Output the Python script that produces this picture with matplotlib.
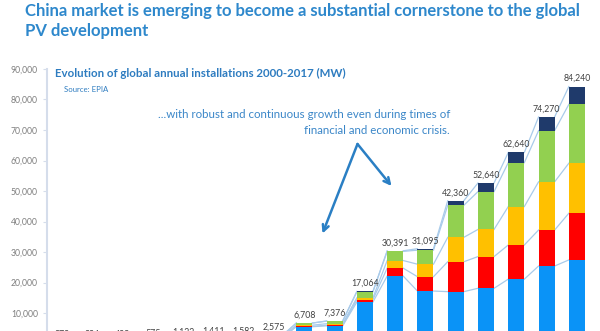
import matplotlib
matplotlib.use("Agg")
import matplotlib.pyplot as plt
from matplotlib.patches import FancyArrowPatch
from matplotlib.ticker import FuncFormatter
import numpy as np

years = list(range(2000, 2018))
europe = [200, 240, 320, 430, 850, 1050, 1150, 1800, 5500, 5800, 13600, 22100, 17200, 17000, 18100, 21100, 25400, 27400]
apac = [20, 25, 30, 40, 60, 80, 100, 200, 100, 200, 800, 2600, 4700, 9800, 10400, 11200, 11800, 15300]
americas = [30, 35, 45, 55, 120, 150, 170, 300, 400, 500, 600, 2500, 4100, 8000, 8900, 12600, 15800, 16400]
china = [20, 25, 35, 40, 80, 110, 140, 250, 700, 850, 2000, 3000, 4600, 10500, 12400, 14400, 16800, 19300]
row = [8, 9, 9, 10, 12, 21, 22, 25, 8, 26, 64, 191, 495, 1500, 2840, 3340, 4470, 5840]
total_labels = ["278", "334", "439", "575", "1,122", "1,411", "1,582", "2,575", "6,708", "7,376",
                "17,064", "30,391", "31,095", "42,360", "52,640", "62,640", "74,270", "84,240"]
yticks = [10000, 20000, 30000, 40000, 50000, 60000, 70000, 80000, 90000]

series = [europe, apac, americas, china, row]
colors = ["#0A93F7", "#FF0000", "#FFC000", "#92D050", "#1F3A6B"]

W, H = 600, 331
fig = plt.figure(figsize=(6.0, 3.31), dpi=100)
fig.patch.set_facecolor("white")

def fx(px):
    return px / W

def fy(py):
    return 1 - py / H

ax = fig.add_axes([fx(47), fy(343.5), fx(592) - fx(47), fy(69) - fy(343.5)])
ax.set_xlim(-0.5, len(years) - 0.5)
ax.set_ylim(0, 90000)

x = np.arange(len(years))
bw = 0.53
bottom = np.zeros(len(years))
cums = []
for vals, c in zip(series, colors):
    v = np.array(vals, dtype=float)
    ax.bar(x, v, bw, bottom=bottom, color=c, zorder=3, linewidth=0)
    bottom = bottom + v
    cums.append(bottom.copy())

# series lines connecting segment tops
for cum in cums:
    for i in range(len(years) - 1):
        ax.plot([x[i] + bw / 2, x[i + 1] - bw / 2], [cum[i], cum[i + 1]],
                color="#A9CBEA", lw=0.9, zorder=2, clip_on=False)

for i, lab in enumerate(total_labels):
    ax.annotate(lab, (x[i], bottom[i]), xytext=(0, 2.5), textcoords="offset points",
                ha="center", va="bottom", fontsize=6.3, color="#404040", family="Lato")

ax.set_yticks(yticks)
ax.yaxis.set_major_formatter(FuncFormatter(lambda v, p: f"{int(v):,}"))
ax.tick_params(axis="y", direction="out", length=3, width=0.8, color="#D5DDEB",
               labelsize=6.2, labelcolor="#7F7F7F", pad=3.5)
for lab in ax.get_yticklabels():
    lab.set_family("Lato")
ax.set_xticks([])
for s in ["top", "right", "bottom"]:
    ax.spines[s].set_visible(False)
ax.spines["left"].set_color("#D5DDEB")
ax.spines["left"].set_linewidth(1.5)
ax.set_facecolor("none")

# Titles and annotations
fig.text(fx(25), fy(11), "China market is emerging to become a substantial cornerstone to the global",
         fontsize=12.0, fontweight="bold", color="#2E88CC", family="Lato", ha="left", va="center")
fig.text(fx(25), fy(31), "PV development",
         fontsize=12.0, fontweight="bold", color="#2E88CC", family="Lato", ha="left", va="center")
fig.text(fx(55), fy(73), "Evolution of global annual installations 2000-2017 (MW)",
         fontsize=8.3, fontweight="bold", color="#2E7CC0", family="Lato", ha="left", va="center")
fig.text(fx(64), fy(89), "Source: EPIA",
         fontsize=5.6, color="#2E7CC0", family="Lato", ha="left", va="center")
fig.text(fx(450), fy(114), "...with robust and continuous growth even during times of",
         fontsize=8.3, color="#3A86C8", family="Lato", ha="right", va="center")
fig.text(fx(450), fy(130), "financial and economic crisis.",
         fontsize=8.3, color="#3A86C8", family="Lato", ha="right", va="center")

for end in [(322.5, 233.5), (391.5, 186)]:
    arr = FancyArrowPatch((fx(357.5), fy(144)), (fx(end[0]), fy(end[1])),
                          transform=fig.transFigure, arrowstyle="->", mutation_scale=11,
                          color="#2A7FC4", lw=1.8, shrinkA=0, shrinkB=0)
    fig.add_artist(arr)

fig.savefig("out.png", dpi=100)
